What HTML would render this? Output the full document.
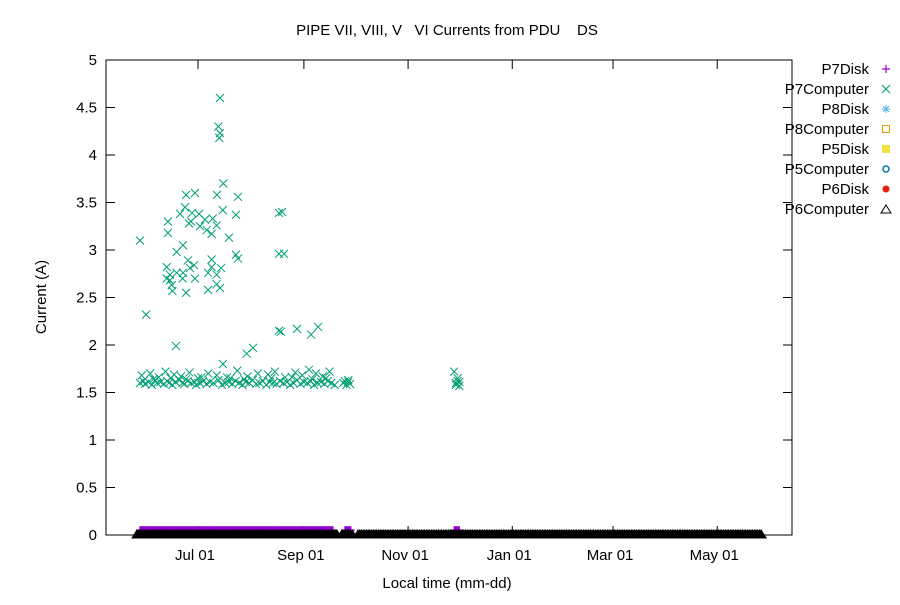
<!DOCTYPE html>
<html><head><meta charset="utf-8"><style>
body{margin:0;background:#fff}
svg text{font-family:"Liberation Sans",sans-serif;font-size:15px;fill:#000;white-space:pre}
</style></head><body>
<svg id="chart" width="900" height="600" xmlns="http://www.w3.org/2000/svg">
<rect width="900" height="600" fill="#fff"/>
<text x="447" y="35" text-anchor="middle" xml:space="preserve">PIPE VII, VIII, V   VI Currents from PDU    DS</text>
<text transform="translate(46,297) rotate(-90)" text-anchor="middle">Current (A)</text>
<text x="447" y="588" text-anchor="middle">Local time (mm-dd)</text>
<g id="grid"></g>
<g id="marks"></g>
<rect x="106" y="60" width="686" height="475" fill="none" stroke="#000" stroke-width="1"/>
<g id="legend"></g>
</svg>
<script>
// days relative to Jul 01
const xTickDays=[0,62,123,184,243,304];
const xTickLabels=["Jul 01","Sep 01","Nov 01","Jan 01","Mar 01","May 01"];
const yTicks=[0,0.5,1,1.5,2,2.5,3,3.5,4,4.5,5];
const yTickLabels=["0","0.5","1","1.5","2","2.5","3","3.5","4","4.5","5"];
const p7cDays=[-34.0,-30.4,-12.9,12.9,11.9,12.9,12.5,14.8,-7.0,-1.8,11.1,23.4,-7.6,-10.5,-3.5,0.6,14.5,22.2,47.4,-17.6,-4.1,4.1,8.6,10.9,1.2,5.1,8.0,-17.6,-5.3,18.1,-8.8,-12.5,22.2,23.4,47.4,-5.9,-2.3,-4.7,8.0,13.5,-18.3,-16.4,-12.5,-8.8,-9.0,-1.8,5.9,10.9,-16.4,-18.3,-15.4,-15.0,-7.0,5.9,12.9,10.9,8.0,14.6,28.5,32.2,47.4,48.6,58.0,66.2,70.3,49.2,50.4,
-34,-32,-31,-29,-27,-25,-24,-22,-20,-18,-17,-15,-13,-11,-9,-8,-6,-4,-2,-1,1,3,5,7,9,12,14,16,18,20,22,24,26,28,30,32,34,36,38,40,42,44,46,48,50,52,54,56,58,60,62,64,66,68,70,72,74,76,78,80,
-33,-28,-23,-19,-14,-10,-5,0,6,11,17,23,29,35,41,45,51,57,61,65,69,73,77,
-26,-16,-7,2,19,27,43,55,67,75,85,86,87,88,89,150,151,152,153,152,151,153,88];
const p7cVals=[3.10,2.32,1.99,4.60,4.30,4.23,4.18,3.70,3.58,3.60,3.58,3.56,3.45,3.38,3.39,3.38,3.42,3.37,3.39,3.30,3.30,3.32,3.33,3.26,3.25,3.21,3.17,3.18,3.28,3.13,3.05,2.98,2.95,2.91,2.96,2.89,2.84,2.81,2.90,2.81,2.82,2.74,2.76,2.76,2.70,2.70,2.76,2.74,2.68,2.70,2.63,2.57,2.55,2.58,2.60,2.64,2.82,1.80,1.91,1.97,2.15,2.14,2.17,2.11,2.19,3.40,2.96,
1.60,1.62,1.59,1.61,1.58,1.63,1.60,1.61,1.59,1.62,1.60,1.58,1.61,1.63,1.60,1.59,1.62,1.60,1.61,1.58,1.60,1.62,1.59,1.61,1.60,1.63,1.58,1.60,1.61,1.59,1.62,1.60,1.58,1.61,1.60,1.63,1.59,1.60,1.62,1.58,1.61,1.60,1.59,1.62,1.60,1.61,1.58,1.60,1.63,1.59,1.61,1.60,1.62,1.58,1.60,1.61,1.59,1.62,1.60,1.58,
1.68,1.70,1.66,1.72,1.69,1.67,1.71,1.65,1.70,1.68,1.66,1.73,1.67,1.70,1.69,1.72,1.66,1.71,1.68,1.74,1.70,1.67,1.72,
1.64,1.65,1.64,1.66,1.65,1.64,1.65,1.66,1.64,1.65,1.60,1.62,1.58,1.61,1.59,1.72,1.60,1.62,1.57,1.65,1.58,1.61,1.63];
const p7DiskStart=[-34,86,150];
const p7DiskEnd=[79,89.6,153.4];
const p7DiskValue=0.05;
const p6cStart=[-35.7,84.3,93.7];
const p6cEnd=[81.4,90.7,330];
const p6cValue=0;
const legendNames=["P7Disk","P7Computer","P8Disk","P8Computer","P5Disk","P5Computer","P6Disk","P6Computer"];

const NS="http://www.w3.org/2000/svg";
const X0=198,PXD=1.708,Y0=535,PXU=95;
const xS=d=>X0+d*PXD, yS=v=>Y0-v*PXU;
function mk(tag,attrs,parent){const e=document.createElementNS(NS,tag);for(const k in attrs)e.setAttribute(k,attrs[k]);parent.appendChild(e);return e;}
const grid=document.getElementById('grid'),marks=document.getElementById('marks'),legend=document.getElementById('legend');
yTicks.forEach((v,i)=>{const y=yS(v);
 const t=mk('line',{x1:106,x2:115,y1:y,y2:y,stroke:'#000'},grid);
 
 
 const t2=mk('line',{x1:783,x2:792,y1:y,y2:y,stroke:'#000'},grid);
 
 
 const l=mk('text',{x:97,y:y+5,'text-anchor':'end'},grid);l.textContent=yTickLabels[i];
 
 
});
xTickDays.forEach((d,i)=>{const x=xS(d);
 const t=mk('line',{x1:x,x2:x,y1:535,y2:526,stroke:'#000'},grid);
 
 
 const t2=mk('line',{x1:x,x2:x,y1:60,y2:69,stroke:'#000'},grid);
 
 
 const l=mk('text',{x:x-3,y:560,'text-anchor':'middle'},grid);l.textContent=xTickLabels[i];
 
 
});
function cross(x,y,c,p){return mk('path',{d:`M${x-4},${y-4}L${x+4},${y+4}M${x-4},${y+4}L${x+4},${y-4}`,stroke:c,'stroke-width':1,fill:'none'},p);}
function plus(x,y,c,p){return mk('path',{d:`M${x-4},${y}L${x+4},${y}M${x},${y-4}L${x},${y+4}`,stroke:c,'stroke-width':1.2,fill:'none'},p);}
function tri(x,y,c,p,f){return mk('path',{d:`M${x},${y-5}L${x+5},${y+3}L${x-5},${y+3}Z`,stroke:c,fill:f||c,'stroke-width':1},p);}
for(let s=0;s<p6cStart.length;s++){
 const r=mk('rect',{x:xS(p6cStart[s]),y:yS(p6cValue)-1,width:(p6cEnd[s]-p6cStart[s])*PXD,height:3,fill:'#e51e10'},marks);
 
 
}
for(let s=0;s<p7DiskStart.length;s++){
 for(let d=p7DiskStart[s];d<=p7DiskEnd[s];d+=0.5){const m=plus(xS(d),yS(p7DiskValue),'#9400d3',marks);
  
  }
}
for(let s=0;s<p6cStart.length;s++){
 for(let d=p6cStart[s];d<=p6cEnd[s];d+=1){const m=tri(xS(d),yS(p6cValue),'#000',marks);
  
  }
}
p7cDays.forEach((d,i)=>{const m=cross(xS(d),yS(p7cVals[i]),'#009e73',marks);
 
 });
const lc=['#9400d3','#009e73','#56b4e9','#e69f00','#f0e442','#0072b2','#e51e10','#000'];
legendNames.forEach((n,i)=>{const y=69+i*20;
 const t=mk('text',{x:869,y:y+5,'text-anchor':'end','font-size':'15.5px'},legend);t.textContent=n;
 
 
 const x=886;let m;
 if(i==0)m=plus(x,y,lc[i],legend);
 else if(i==1)m=cross(x,y,lc[i],legend);
 else if(i==2)m=mk('path',{d:`M${x-4},${y}L${x+4},${y}M${x},${y-4}L${x},${y+4}M${x-3},${y-3}L${x+3},${y+3}M${x-3},${y+3}L${x+3},${y-3}`,stroke:lc[i],fill:'none'},legend);
 else if(i==3)m=mk('rect',{x:x-3.5,y:y-3.5,width:7,height:7,fill:'none',stroke:lc[i]},legend);
 else if(i==4)m=mk('rect',{x:x-4,y:y-4,width:8,height:8,fill:lc[i]},legend);
 else if(i==5)m=mk('circle',{cx:x,cy:y,r:3,fill:'none',stroke:lc[i],'stroke-width':1.5},legend);
 else if(i==6)m=mk('circle',{cx:x,cy:y,r:3.5,fill:lc[i]},legend);
 else m=tri(x,y+1,'#000',legend,'none');
 
 
});
</script>
</body></html>
